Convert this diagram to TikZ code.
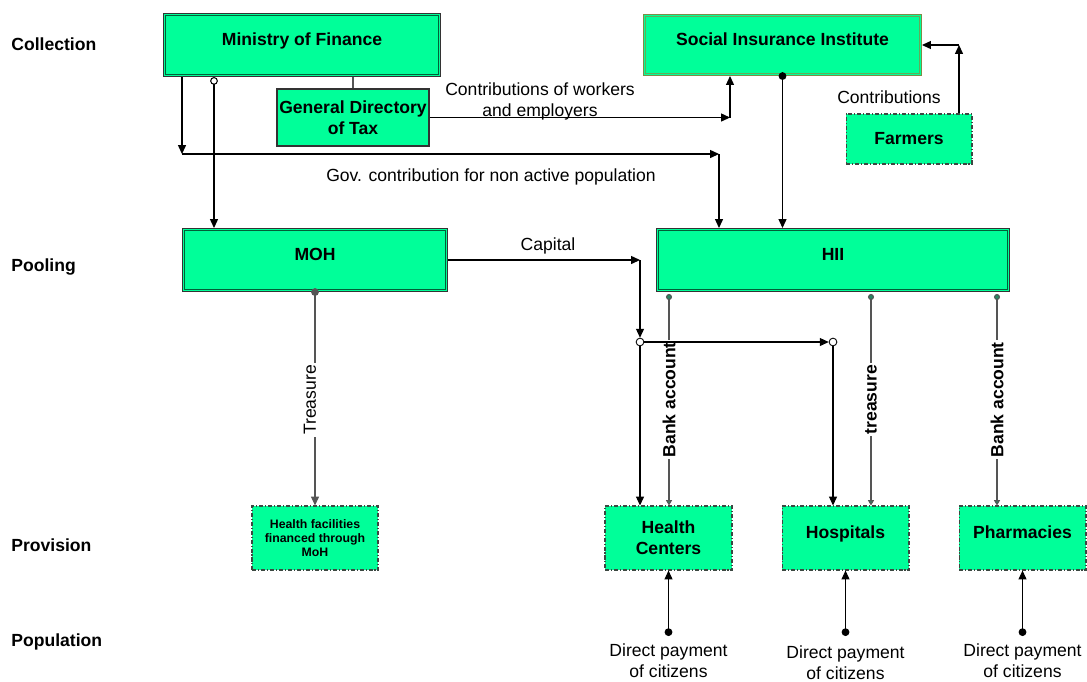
\documentclass[tikz,border=0pt]{standalone}
\usepackage{fontspec}
\setmainfont{Liberation Sans}
\usetikzlibrary{arrows.meta}

\definecolor{boxgreen}{RGB}{0,255,153}
\definecolor{boxedge}{RGB}{0,95,55}
\definecolor{siiedge}{RGB}{125,140,70}
\definecolor{siiinner}{RGB}{100,170,90}
\definecolor{dashedge}{RGB}{60,72,66}
\definecolor{dotteal}{RGB}{40,135,100}
\definecolor{linegray}{RGB}{85,85,85}

\tikzset{
  fundbox/.style={draw=black!80, line width=0.6pt, fill=boxgreen, inner sep=0pt, font=\bfseries},
  toptext/.style={text height=7pt, text depth=7pt},
  taxbox/.style={draw=black!80, line width=0.6pt, fill=boxgreen, inner sep=0pt,
    font=\bfseries, align=center},
  dashbox/.style={draw=dashedge, line width=0.6pt, fill=boxgreen, inner sep=0pt,
    dash pattern=on 2.3pt off 1.1pt on 0.6pt off 1.1pt, font=\bfseries, align=center},
  levelname/.style={anchor=base west, inner sep=0pt, font=\bfseries},
  flowtext/.style={inner sep=0pt, align=center},
  linelabel/.style={fill=white, inner sep=1pt, rotate=90, font=\bfseries},
  junction/.style={circle, draw=black, fill=white, line width=0.5pt, minimum size=4.4pt, inner sep=0pt},
  plainline/.style={line width=0.6pt, draw=linegray},
  flow/.style={line width=0.6pt, -{Triangle[length=5pt,width=4.5pt]}},
  dotflow/.style={line width=0.6pt, {Circle[length=4.4pt]}-{Triangle[length=5pt,width=4.5pt]}},
  opencircflow/.style={line width=0.6pt, {Circle[open,length=4.4pt]}-{Triangle[length=5pt,width=4.5pt]}},
  tealflow/.style={line width=0.6pt, draw=linegray,
    {Circle[length=3.4pt,fill=dotteal]}-{Triangle[length=3pt,width=3.4pt,fill=dotteal]}}
}

% inner line of the double framed boxes
\newcommand{\innerframe}[3]{%
  \draw [#2, line width=#3] ([shift={(1.6pt,-1.6pt)}]#1.north west) rectangle ([shift={(-1.6pt,1.6pt)}]#1.south east);}

\begin{document}
\begin{tikzpicture}[x=0.02cm, y=-0.02cm]
\useasboundingbox (0,0) rectangle (1087,681);

% Marking the levels
\node [levelname] (lvcollect) at (11,50.5) {Collection};%
\node [levelname] (lvpool) at (11,271) {Pooling};%
\node [levelname] (lvprov) at (11,551) {Provision};%
\node [levelname] (lvpop) at (11,646) {Population};%

% Drawing the collection boxes
\node [fundbox, toptext, minimum width=5.54cm, minimum height=1.26cm] (mof) at (302,45) {Ministry of Finance};%
\innerframe{mof}{boxedge}{0.6pt}
\node [taxbox, minimum width=3.04cm, minimum height=1.14cm] (gdt) at (353,117.5) {General Directory\\of Tax};%
\node [fundbox, toptext, draw=siiedge, minimum width=5.56cm, minimum height=1.22cm] (sii) at (782.5,45) {Social Insurance Institute};%
\innerframe{sii}{siiinner}{0.6pt}
\node [dashbox, minimum width=2.52cm, minimum height=1.00cm] (farmers) at (909,139) {Farmers};%

% Drawing the pooling boxes
\node [fundbox, toptext, minimum width=5.30cm, minimum height=1.26cm] (moh) at (315,260) {MOH};%
\innerframe{moh}{boxedge}{0.6pt}
\node [fundbox, toptext, minimum width=7.06cm, minimum height=1.26cm] (hii) at (833,260) {HII};%
\innerframe{hii}{boxedge}{0.6pt}

% Drawing the provision boxes
\node [dashbox, font=\bfseries\fontsize{7}{8}\selectfont, minimum width=2.52cm, minimum height=1.28cm] (hfm) at (315,538) {Health facilities\\financed through\\MoH};%
\node [dashbox, minimum width=2.54cm, minimum height=1.28cm] (hc) at (668.5,538) {Health\\Centers};%
\node [dashbox, toptext, minimum width=2.54cm, minimum height=1.28cm] (hosp) at (845.5,538) {Hospitals};%
\node [dashbox, toptext, minimum width=2.54cm, minimum height=1.28cm] (pharm) at (1022.5,538) {Pharmacies};%

% Drawing link Ministry of Finance - General Directory of Tax
\draw [plainline] (gdt.north |- mof.south) -- (gdt.north);%

% Drawing contributions of workers and employers
\coordinate (taxbend) at (730,117.5);
\draw [flow] (gdt.east) -- (taxbend);%
\draw [flow] (taxbend) -- (taxbend |- sii.south);%
\node [flowtext] (workers) at (540,101) {Contributions of workers\\and employers};%

% Drawing government contribution
\coordinate (govsplit) at (182,154);
\coordinate (govbend) at (719,154);
\draw [flow] (govsplit |- mof.south) -- (govsplit);%
\draw [flow] (govsplit) -- (govbend);%
\draw [flow] (govbend) -- (govbend |- hii.north);%
\node [flowtext] (govtext) at (491,177) {Gov. contribution for non active population};%

% Drawing budget Ministry of Finance - MOH
\coordinate (budget) at (214,0);
\draw [opencircflow] (budget |- mof.south) -- (budget |- moh.north);%

% Drawing Social Insurance Institute - HII
\draw [dotflow] ([yshift=2.2pt]sii.south) -- (sii.south |- hii.north);%

% Drawing contributions of farmers
\coordinate (farmbend) at (959,45);
\draw [flow] (farmbend |- farmers.north) -- (farmbend);%
\draw [flow] (farmbend) -- (sii.east |- farmbend);%
\node [flowtext] (farmtext) at (889,97) {Contributions};%

% Drawing treasure MOH - health facilities
\draw [dotflow, draw=linegray] ([yshift=2.2pt]moh.south) -- (hfm.north);%
\node [flowtext, fill=white, inner sep=1pt, rotate=90] (treasmoh) at (310,400) {Treasure};%

% Drawing HII - providers
\coordinate (hiihc) at (669,294);
\coordinate (hiihosp) at (871,294);
\coordinate (hiipharm) at (997,294);
\draw [tealflow] (hiihc) -- (hiihc |- hc.north) node [linelabel, pos=0.5] (bankhc) {Bank account};%
\draw [tealflow] (hiihosp) -- (hiihosp |- hosp.north) node [linelabel, pos=0.5] (treashosp) {treasure};%
\draw [tealflow] (hiipharm) -- (hiipharm |- pharm.north) node [linelabel, pos=0.5] (bankpharm) {Bank account};%

% Drawing capital MOH - providers
\coordinate (capbend) at (640,260);
\node [junction] (capsplit) at (640,342) {};%
\node [junction] (capjoin) at (833,342) {};%
\draw [flow] (moh.east) -- (capbend);%
\draw [flow] (capbend) -- (capsplit);%
\draw [flow] (capsplit) -- (capsplit |- hc.north);%
\draw [flow] (capsplit) -- (capjoin);%
\draw [flow] (capjoin) -- (capjoin |- hosp.north);%
\node [flowtext] (captext) at (548,246) {Capital};%

% Drawing direct payments
\coordinate (payhc) at (668.5,636);
\coordinate (payhosp) at (845.5,636);
\coordinate (paypharm) at (1022.5,636);
\draw [dotflow] (payhc) -- (hc.south);%
\draw [dotflow] (payhosp) -- (hosp.south);%
\draw [dotflow] (paypharm) -- (pharm.south);%
\node [flowtext] (payhctext) at (668.5,661) {Direct payment\\of citizens};%
\node [flowtext] (payhosptext) at (845.5,662.5) {Direct payment\\of citizens};%
\node [flowtext] (paypharmtext) at (1022.5,661) {Direct payment\\of citizens};%
\end{tikzpicture}
\end{document}
